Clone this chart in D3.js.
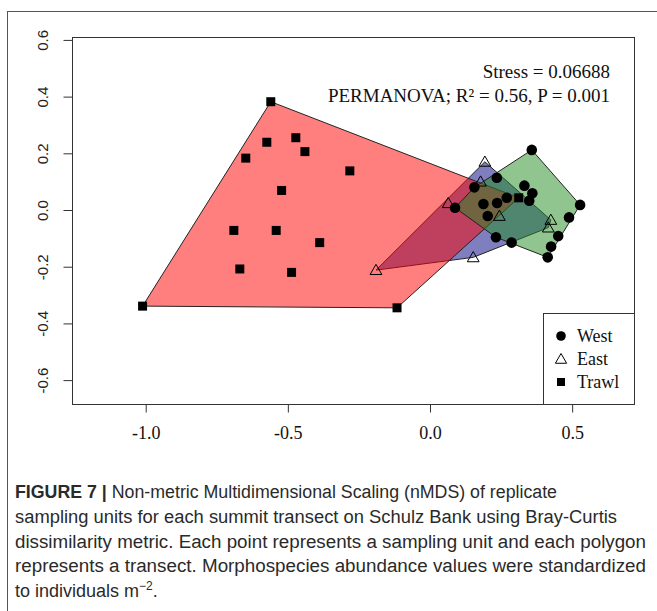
<!DOCTYPE html>
<html>
<head>
<meta charset="utf-8">
<script src="https://cdn.jsdelivr.net/npm/d3@7"></script>
<style>
  body { margin: 0; background: #fff; }
  svg { display: block; }
  .serif { font-family: "Liberation Serif", "Times New Roman", serif; fill: #111; }
  .caption { font-family: "Liberation Sans", Arial, sans-serif; fill: #2a2a2a; }
</style>
</head>
<body>
<svg id="chart" width="657" height="611"></svg>
<script>
// nMDS scores
const westPts = [[0.358,0.212],[0.235,0.114],[0.156,0.080],[0.332,0.086],[0.360,0.059],[0.349,0.033],
  [0.270,0.043],[0.188,0.021],[0.236,0.025],[0.088,0.008],[0.203,-0.021],[0.528,0.018],[0.489,-0.026],
  [0.451,-0.092],[0.232,-0.096],[0.287,-0.115],[0.426,-0.129],[0.414,-0.167]];
const eastPts = [[0.193,0.170],[0.178,0.100],[0.064,0.024],[0.244,-0.021],[0.425,-0.035],[0.416,-0.062],
  [0.152,-0.167],[-0.190,-0.212]];
const trawlPts = [[-0.560,0.382],[-0.574,0.239],[-0.472,0.255],[-0.440,0.206],[-0.648,0.183],[-0.282,0.138],
  [-0.522,0.069],[-0.690,-0.072],[-0.541,-0.072],[-0.388,-0.115],[-0.669,-0.208],[-0.487,-0.220],
  [-1.011,-0.339],[-0.116,-0.345],[0.312,0.043]];

const xTicks = [-1.0, -0.5, 0.0, 0.5];
const yTicks = [-0.6, -0.4, -0.2, 0.0, 0.2, 0.4, 0.6];
const groupNames = ["West", "East", "Trawl"];
const statLines = ["Stress = 0.06688", "PERMANOVA; R\u00b2 = 0.56, P = 0.001"];
const captionLines = [
  "Non-metric Multidimensional Scaling (nMDS) of replicate",
  "sampling units for each summit transect on Schulz Bank using Bray-Curtis",
  "dissimilarity metric. Each point represents a sampling unit and each polygon",
  "represents a transect. Morphospecies abundance values were standardized",
  "to individuals m"
];
// right end of each caption line in the figure (last line left natural)
const captionEnds = [557, 617, 646, 646, null];

const svg = d3.select("#chart");
const box = {left: 72.5, top: 37.5, right: 634.5, bottom: 404.5};

const x = d3.scaleLinear().domain([-1.2575, 0.7193]).range([box.left, box.right]);
const y = d3.scaleLinear().domain([-0.686, 0.6085]).range([box.bottom, box.top]);

// outer figure frame
svg.append("rect").attr("x", 7.5).attr("y", 11.5).attr("width", 700).attr("height", 700)
  .attr("fill", "none").attr("stroke", "#555").attr("stroke-width", 1);

// hulls: East (blue), Trawl (red), West (green) drawn in that order
const hulls = [
  {pts: eastPts, fill: "rgb(0,0,128)"},
  {pts: trawlPts, fill: "rgb(255,0,0)"},
  {pts: westPts, fill: "rgb(34,139,34)"}
];
hulls.forEach(h => {
  const hull = d3.polygonHull(h.pts.map(d => [x(d[0]), y(d[1])]));
  svg.append("path")
    .attr("d", "M" + hull.join("L") + "Z")
    .attr("fill", h.fill).attr("fill-opacity", 0.5)
    .attr("stroke", "#222").attr("stroke-width", 1);
});

// points
svg.append("g").selectAll("circle").data(westPts).join("circle")
  .attr("cx", d => x(d[0])).attr("cy", d => y(d[1])).attr("r", 5.3).attr("fill", "#000");

const tri = d3.symbol().type(d3.symbolTriangle).size(60);
svg.append("g").selectAll("path").data(eastPts).join("path")
  .attr("transform", d => `translate(${x(d[0])},${y(d[1]) + 1})`)
  .attr("d", tri).attr("fill", "none").attr("stroke", "#000").attr("stroke-width", 1);

svg.append("g").selectAll("rect").data(trawlPts).join("rect")
  .attr("x", d => x(d[0]) - 4.5).attr("y", d => y(d[1]) - 4.5)
  .attr("width", 9).attr("height", 9).attr("fill", "#000");

// plot box
svg.append("rect").attr("x", box.left).attr("y", box.top)
  .attr("width", box.right - box.left).attr("height", box.bottom - box.top)
  .attr("fill", "none").attr("stroke", "#333").attr("stroke-width", 1);

// axes
const xAxis = svg.append("g").attr("transform", `translate(0,${box.bottom})`)
  .call(d3.axisBottom(x).tickValues(xTicks).tickSize(8).tickPadding(14).tickFormat(d => d.toFixed(1)));
xAxis.select(".domain").remove();
xAxis.selectAll("line").attr("stroke", "#333");
xAxis.selectAll("text").attr("class", "serif").attr("font-size", 18).attr("fill", "#111");

const yAxis = svg.append("g").attr("transform", `translate(${box.left},0)`)
  .call(d3.axisLeft(y).tickValues(yTicks).tickSize(9).tickFormat(d => d.toFixed(1)));
yAxis.select(".domain").remove();
yAxis.selectAll("line").attr("stroke", "#333");
yAxis.selectAll("text")
  .attr("transform", "rotate(-90)")
  .attr("x", 0).attr("y", -30).attr("dy", "0.35em")
  .attr("text-anchor", "middle")
  .attr("font-family", "'Liberation Sans', Arial, sans-serif")
  .attr("font-size", 15).attr("fill", "#222");

// stress / permanova text
svg.append("g").selectAll("text").data(statLines).join("text")
  .attr("class", "serif").attr("font-size", 19).attr("text-anchor", "end")
  .attr("x", 610).attr("y", (d, i) => 78 + i * 23.5)
  .text(d => d);

// legend
const lg = svg.append("g");
lg.append("rect").attr("x", 543.5).attr("y", 313.5).attr("width", box.right - 543.5).attr("height", box.bottom - 313.5)
  .attr("fill", "#fff").attr("stroke", "#333");
const rows = lg.selectAll("g").data(groupNames).join("g")
  .attr("transform", (d, i) => `translate(561,${336 + i * 23})`);
rows.filter(d => d === "West").append("circle").attr("r", 4.8).attr("fill", "#000");
rows.filter(d => d === "East").append("path").attr("d", d3.symbol().type(d3.symbolTriangle).size(55))
  .attr("transform", "translate(0,1)").attr("fill", "none").attr("stroke", "#000");
rows.filter(d => d === "Trawl").append("rect").attr("x", -4).attr("y", -4).attr("width", 8).attr("height", 8).attr("fill", "#000");
rows.append("text").attr("class", "serif").attr("font-size", 18)
  .attr("x", 16).attr("y", 6).text(d => d);

// caption
const cap = svg.append("g").attr("class", "caption").attr("font-size", 18);
captionLines.forEach((line, i) => {
  const t = cap.append("text").attr("x", 15).attr("y", 498 + i * 24.8);
  if (captionEnds[i]) t.attr("textLength", captionEnds[i] - 15).attr("lengthAdjust", "spacingAndGlyphs");
  if (i === 0) t.append("tspan").attr("font-weight", "bold").text("FIGURE 7 | ");
  t.append("tspan").text(line);
  if (i === captionLines.length - 1) {
    t.append("tspan").attr("font-size", 12).attr("dy", -7).text("\u22122");
    t.append("tspan").attr("dy", 7).text(".");
  }
});
</script>
</body>
</html>
